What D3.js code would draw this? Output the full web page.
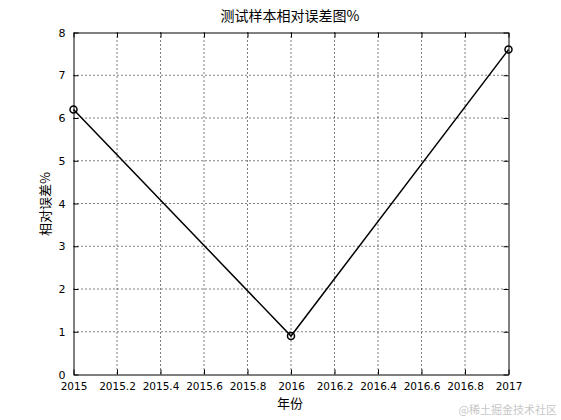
<!DOCTYPE html>
<html><head><meta charset="utf-8">
<script src="https://cdn.jsdelivr.net/npm/d3@7"></script>
<style>body{margin:0;background:#fff}svg{display:block}text{font-family:"DejaVu Sans","Noto Sans CJK SC",sans-serif}</style>
</head><body>
<script>
const years = [2015, 2016, 2017];
const relErr = [6.2, 0.9, 7.6];
const xTicks = [2015, 2015.2, 2015.4, 2015.6, 2015.8, 2016, 2016.2, 2016.4, 2016.6, 2016.8, 2017];
const yTicks = [0, 1, 2, 3, 4, 5, 6, 7, 8];
const title = "测试样本相对误差图%";
const xLabel = "年份";
const yLabel = "相对误差%";
const watermark = "@稀土掘金技术社区";

const W = 561, H = 420;
const m = {l: 73.5, r: 508.5, t: 32.5, b: 374.5};
const svg = d3.select("body").append("svg").attr("width", W).attr("height", H);
const x = d3.scaleLinear().domain([2015, 2017]).range([m.l, m.r]);
const y = d3.scaleLinear().domain([0, 8]).range([m.b, m.t]);

// grid
const g = svg.append("g");
g.selectAll(".gx").data(xTicks.slice(1, -1)).enter().append("line")
  .attr("x1", d => x(d)).attr("x2", d => x(d)).attr("y1", m.t).attr("y2", m.b)
  .attr("stroke", "#000").attr("stroke-width", 1).attr("stroke-dasharray", "1,3");
g.selectAll(".gy").data(yTicks.slice(1, -1)).enter().append("line")
  .attr("y1", d => y(d)).attr("y2", d => y(d)).attr("x1", m.l).attr("x2", m.r)
  .attr("stroke", "#000").attr("stroke-width", 1).attr("stroke-dasharray", "1,3");

// axes
const fmt = d => String(+d.toFixed(1));
const ax = svg.append("g").attr("transform", `translate(0,${m.b})`)
  .call(d3.axisBottom(x).tickValues(xTicks).tickFormat(fmt).tickSizeInner(-5).tickSizeOuter(0).tickPadding(8));
const axTop = svg.append("g").attr("transform", `translate(0,${m.t})`)
  .call(d3.axisTop(x).tickValues(xTicks).tickFormat("").tickSizeInner(-5).tickSizeOuter(0));
const ay = svg.append("g").attr("transform", `translate(${m.l},0)`)
  .call(d3.axisLeft(y).tickValues(yTicks).tickFormat(d3.format("d")).tickSizeInner(-5).tickSizeOuter(0).tickPadding(8));
const ayR = svg.append("g").attr("transform", `translate(${m.r},0)`)
  .call(d3.axisRight(y).tickValues(yTicks).tickFormat("").tickSizeInner(-5).tickSizeOuter(0));
[ax, axTop, ay, ayR].forEach(a => {
  a.selectAll("path,line").attr("stroke", "#000").attr("stroke-width", 1);
  a.selectAll("text").attr("fill", "#000").style("font-size", "11px").style("font-family", "'DejaVu Sans',sans-serif");
});
ax.selectAll("text").style("font-size", "10.5px");

// line
const pts = years.map((d, i) => [d, relErr[i]]);
svg.append("path").datum(pts)
  .attr("d", d3.line().x(d => x(d[0])).y(d => y(d[1])))
  .attr("fill", "none").attr("stroke", "#000").attr("stroke-width", 1.5);
svg.selectAll(".pt").data(pts).enter().append("circle")
  .attr("cx", d => x(d[0])).attr("cy", d => y(d[1])).attr("r", 3.5)
  .attr("fill", "none").attr("stroke", "#000").attr("stroke-width", 1.5);

// texts
svg.append("text").attr("x", 290).attr("y", 21).attr("text-anchor", "middle")
  .style("font-size", "14px").style("font-family", "'Noto Sans CJK SC',sans-serif").text(title);
svg.append("text").attr("x", 290).attr("y", 408).attr("text-anchor", "middle")
  .style("font-size", "13px").style("font-family", "'Noto Sans CJK SC',sans-serif").text(xLabel);
svg.append("text").attr("transform", "translate(50,204) rotate(-90)").attr("text-anchor", "middle")
  .style("font-size", "13px").style("font-family", "'Noto Sans CJK SC',sans-serif").text(yLabel);
svg.append("text").attr("x", 557).attr("y", 414).attr("text-anchor", "end").attr("fill", "#c8c8c8")
  .style("font-size", "11px").style("font-family", "'Noto Sans CJK SC',sans-serif").text(watermark);
</script>
</body></html>
